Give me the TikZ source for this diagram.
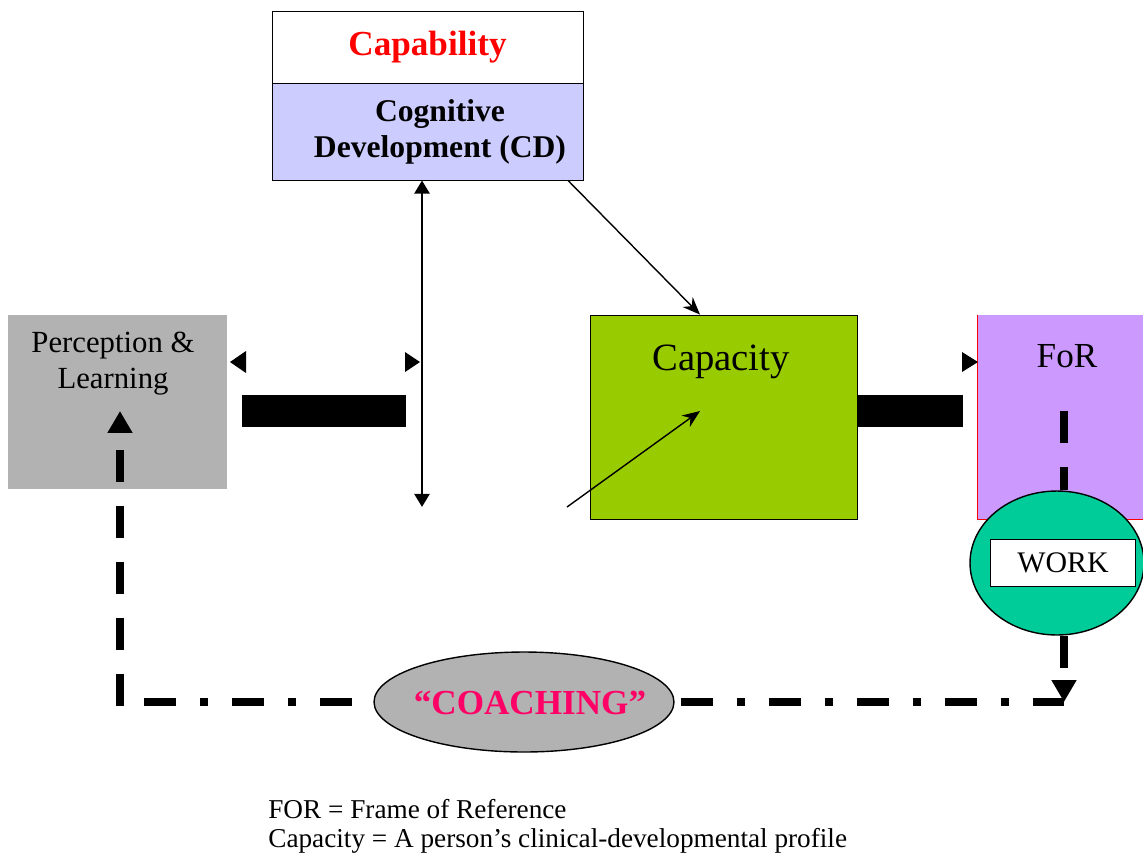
\documentclass[tikz,border=0pt]{standalone}
\usepackage{fontspec}
\setmainfont{Liberation Serif}
\usetikzlibrary{arrows.meta,shapes.geometric}

\definecolor{cdblue}{HTML}{CCCCFF}
\definecolor{boxgray}{HTML}{B2B2B2}
\definecolor{capgreen}{HTML}{99CC00}
\definecolor{forpurple}{HTML}{CC99FF}
\definecolor{workteal}{HTML}{00CC99}
\definecolor{coachpink}{HTML}{FF0066}

\begin{document}
\begin{tikzpicture}[x=0.02cm, y=-0.02cm,
    box/.style={draw, line width=0.5pt, inner sep=0pt},
    bar/.style={fill=black, inner sep=0pt, minimum height=0.64cm},
    loopline/.style={line width=4.5pt},
    dashes/.style={dash pattern=on 0.64cm off 0.48cm},
    dashdots/.style={dash pattern=on 0.64cm off 0.48cm on 0.16cm off 0.48cm},
    bigtip/.style={-{Triangle[length=12.5pt, width=13.5pt]}},
    thinarrow/.style={line width=0.8pt, -{Stealth[length=10pt, width=8pt]}}]

\useasboundingbox (0,0) rectangle (1143,853);

% top boxes
\node[box, fill=white, minimum width=6.22cm, minimum height=1.44cm,
      text=red, font=\bfseries\fontsize{20}{24}\selectfont] (capab) at (427.5,47) {Capability};
\node[box, fill=cdblue, minimum width=6.22cm, minimum height=1.94cm] (cd) at (427.5,131.5) {};
\node[align=center, font=\bfseries\fontsize{18}{20.5}\selectfont] (cdtext) at (440,132) {Cognitive\\Development (CD)};

% middle row
\node[fill=boxgray, inner sep=0pt, minimum width=4.38cm, minimum height=3.48cm] (percep) at (117.5,402) {};
\node[align=center, font=\fontsize{17.5}{20.5}\selectfont] (perceptext) at (113,364) {Perception \&\\Learning};
\node[box, fill=capgreen, minimum width=5.34cm, minimum height=4.08cm] (capacity) at (723.5,417) {};
\node[font=\fontsize{22}{26}\selectfont] (capacitytext) at (721,362) {Capacity};
\node[fill=forpurple, inner sep=0pt, minimum width=3.64cm, minimum height=4.08cm] (frameref) at (1069,417) {};
\draw[red, line width=0.6pt] (frameref.north west) -- (frameref.south west) -- (frameref.south east);
\node[font=\fontsize{20}{24}\selectfont] (framereftext) at (1067,356) {FoR};

\node[bar, minimum width=3.28cm] (bar1) at (324,411) {};
\node[bar, minimum width=2.12cm] (bar2) at (910,411) {};
\fill (246,351) -- (230,362) -- (246,373) -- cycle;
\fill (405,352) -- (420,362) -- (405,372) -- cycle;
\fill (962,352) -- (978,362) -- (962,372) -- cycle;

% arrows
\coordinate (vbot) at (422,507);
\draw[line width=1.6pt, {Triangle[length=7.5pt, width=8.5pt]}-{Triangle[length=7.5pt, width=8.5pt]}]
    (cd.south -| vbot) -- (vbot);
\draw[thinarrow] ([xshift=2.81cm]cd.south) -- ([xshift=-0.47cm]capacity.north);
\coordinate (outside) at (567,507);
\draw[thinarrow] (outside) -- ([xshift=-0.47cm, yshift=0.12cm]capacity.center);

% work and coaching
\coordinate (forlink) at (1064,411);
\coordinate (cornL) at (120,702);
\coordinate (cornR) at (1064,702);
\coordinate (tipL) at (120,411);
\node[ellipse, draw, line width=0.8pt, fill=workteal, inner sep=0pt,
      minimum width=3.48cm, minimum height=2.88cm] (work) at (1057,563) {};
\draw[loopline, dashes] (forlink) -- (work.north -| forlink);
\node[box, fill=white, minimum width=2.9cm, minimum height=0.94cm,
      font=\fontsize{17}{20}\selectfont] (worktext) at (1063,563) {WORK};
\node[ellipse, draw, line width=0.8pt, fill=boxgray, inner sep=0pt,
      minimum width=6cm, minimum height=2cm] (coaching) at (524,702) {};
\node[text=coachpink, font=\bfseries\fontsize{20}{24}\selectfont] (coachtext) at (530,703) {“COACHING”};

\draw[loopline, dashdots, dash phase=1.28cm] (cornL) -- (coaching.west);
\draw[loopline, dashdots, dash phase=1.64cm] (coaching.east) -- (cornR);
\draw[loopline, dashes, bigtip] (work.south -| cornR) -- (cornR);
\draw[loopline, dashes, bigtip] ([yshift=-0.08cm]cornL) -- (tipL);

% legend
\node[anchor=base west, inner sep=0pt, font=\fontsize{15.5}{17}\selectfont] (legend1) at (268,818) {FOR = Frame of Reference};
\node[anchor=base west, inner sep=0pt, font=\fontsize{15.5}{17}\selectfont] (legend2) at (268,847) {Capacity = A person’s clinical-developmental profile};
\end{tikzpicture}
\end{document}
